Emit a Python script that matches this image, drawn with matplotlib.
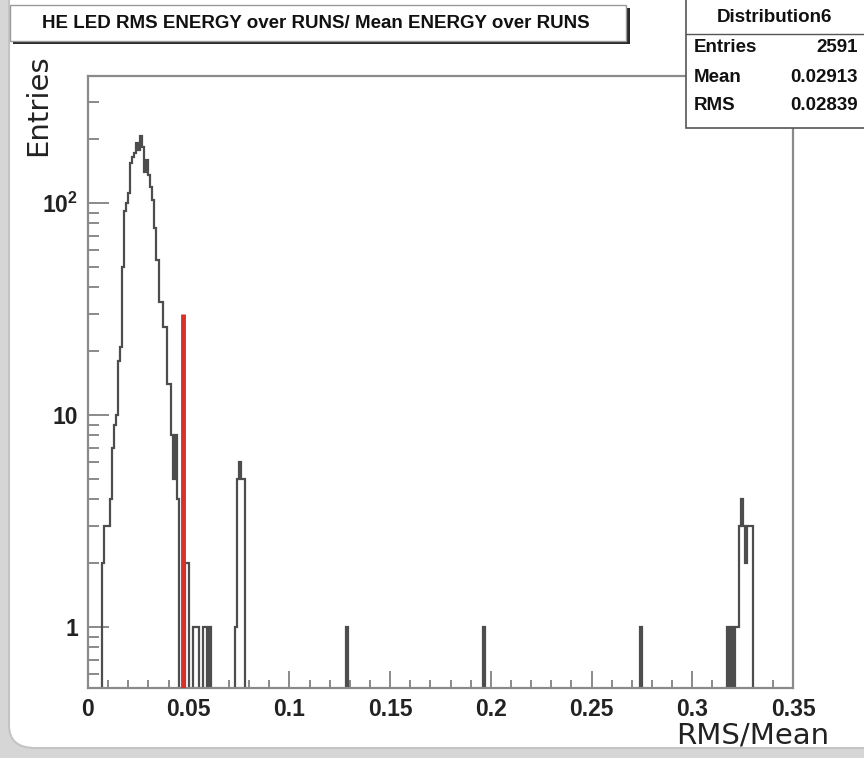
import numpy as np
import matplotlib
matplotlib.use("Agg")
import matplotlib.pyplot as plt
from matplotlib import font_manager
from matplotlib.patches import Rectangle, FancyBboxPatch
from matplotlib.ticker import FixedLocator, FixedFormatter, NullFormatter

# ---------------- data ----------------
bin_width = 0.001
x_min, x_max = 0.0, 0.35
y_min, y_max = 0.515, 397.0

filled_bin_lo = [0.007, 0.008, 0.009, 0.010, 0.011, 0.012, 0.013, 0.014, 0.015, 0.016,
                 0.017, 0.018, 0.019, 0.020, 0.021, 0.022, 0.023, 0.024, 0.025, 0.026,
                 0.027, 0.028, 0.029, 0.030, 0.031, 0.032, 0.033, 0.034, 0.035, 0.036,
                 0.037, 0.038, 0.039, 0.040, 0.041, 0.042, 0.043, 0.044,
                 0.048, 0.049, 0.052, 0.053, 0.054, 0.057, 0.058, 0.060,
                 0.073, 0.074, 0.075, 0.076, 0.077,
                 0.128, 0.196, 0.274,
                 0.317, 0.319, 0.321, 0.322,
                 0.323, 0.324, 0.325, 0.326, 0.327, 0.328, 0.329]
filled_counts = [2, 3, 3, 3, 4, 7, 9, 10, 18, 21,
                 50, 92, 100, 111, 155, 165, 172, 192, 178, 208,
                 183, 140, 160, 135, 119, 103, 76, 54, 34, 34,
                 26, 26, 14, 14, 8, 5, 8, 4,
                 2, 2, 1, 1, 1, 1, 1, 1,
                 1, 5, 6, 5, 5,
                 1, 1, 1,
                 1, 1, 1, 1,
                 3, 4, 3, 2, 3, 3, 3]

cut_value = 0.047
cut_height = 30

title = "HE LED RMS ENERGY over RUNS/ Mean ENERGY over RUNS"
stats_title = "Distribution6"
stats_labels = ["Entries", "Mean", "RMS"]
stats_values = ["2591", "0.02913", "0.02839"]

x_ticks = [0.0, 0.05, 0.10, 0.15, 0.20, 0.25, 0.30, 0.35]
x_tick_labels = ["0", "0.05", "0.1", "0.15", "0.2", "0.25", "0.3", "0.35"]
y_ticks = [1, 10, 100]
y_tick_labels = ["1", "10", r"$\mathbf{10^{2}}$"]
x_label = "RMS/Mean"
y_label = "Entries"

# ---------------- fonts ----------------
names = {f.name for f in font_manager.fontManager.ttflist}
narrow = "Liberation Sans Narrow" in names
bold_family = "Liberation Sans Narrow" if narrow else "Liberation Sans"
tick_size = 19 if narrow else 16.5
title_size = 16 if narrow else 13.5
stats_size = 16 if narrow else 13.5

plt.rcParams["mathtext.fontset"] = "custom"
plt.rcParams["mathtext.bf"] = bold_family + ":bold"
plt.rcParams["mathtext.rm"] = bold_family + ":bold"

W, H = 864, 758
fig = plt.figure(figsize=(W / 100, H / 100), dpi=100)
fig.patch.set_facecolor("#d6d6d6")


def fx(px):
    return px / W


def fy(py):
    return 1 - py / H


# rounded white page
page = FancyBboxPatch((fx(9), fy(748)), fx(900), fy(-60) - fy(748),
                      boxstyle="round,pad=0,rounding_size=0.03",
                      transform=fig.transFigure, facecolor="white",
                      edgecolor="#c4c4c4", lw=1.5, zorder=-10)
fig.patches.append(page)

ax = fig.add_axes([fx(88), fy(688), fx(793) - fx(88), fy(76) - fy(688)])
ax.set_zorder(1)
ax.set_facecolor("white")

# histogram
n_bins = int(round((x_max - x_min) / bin_width))
edges = np.linspace(x_min, x_max, n_bins + 1)
counts = np.zeros(n_bins)
idx = np.rint((np.array(filled_bin_lo) - x_min) / bin_width).astype(int)
counts[idx] = filled_counts
floor = 1e-3
ax.stairs(np.where(counts > 0, counts, floor), edges, baseline=floor,
          color="#4d4d4d", lw=1.6, zorder=2)

ax.vlines(cut_value, floor, cut_height, color="#d9302a", lw=3.5, zorder=3)

ax.set_yscale("log")
ax.set_xlim(x_min, x_max)
ax.set_ylim(y_min, y_max)

ax.xaxis.set_major_locator(FixedLocator(x_ticks))
ax.xaxis.set_major_formatter(FixedFormatter(x_tick_labels))
ax.xaxis.set_minor_locator(FixedLocator(np.arange(0, 0.3501, 0.01)))
ax.yaxis.set_major_locator(FixedLocator(y_ticks))
ax.yaxis.set_major_formatter(FixedFormatter(y_tick_labels))
minor_y = [m * 10 ** e for e in (-1, 0, 1, 2) for m in range(2, 10)]
ax.yaxis.set_minor_locator(FixedLocator(minor_y))
ax.yaxis.set_minor_formatter(NullFormatter())

axis_col = "#8a8a8a"
for s in ax.spines.values():
    s.set_color(axis_col)
    s.set_linewidth(1.6)
ax.tick_params(axis="both", which="both", direction="in", color=axis_col,
               top=False, right=False, width=1.4)
ax.tick_params(axis="x", which="major", length=12, pad=7)
ax.tick_params(axis="x", which="minor", length=6)
ax.tick_params(axis="y", which="major", length=15, pad=7)
ax.tick_params(axis="y", which="minor", length=8)
for lab in ax.get_xticklabels() + ax.get_yticklabels():
    lab.set_fontfamily(bold_family)
    lab.set_fontweight("bold")
    lab.set_fontsize(tick_size)
    lab.set_color("#222222")

# axis titles
fig.text(fx(829), fy(735), x_label, ha="right", va="center",
         fontsize=21, family="DejaVu Sans", color="#222222")
fig.text(fx(38), fy(105), y_label, ha="center", va="center", rotation=90,
         fontsize=21, family="DejaVu Sans", color="#222222")

# title box with shadow
fig.patches.append(Rectangle((fx(13), fy(44)), fx(617), fy(8) - fy(44),
                             transform=fig.transFigure, facecolor="#2a2a2a",
                             edgecolor="none", zorder=5))
fig.patches.append(Rectangle((fx(10), fy(41)), fx(616), fy(5) - fy(41),
                             transform=fig.transFigure, facecolor="white",
                             edgecolor="#9a9a9a", lw=1, zorder=6))
fig.text(fx(316), fy(23), title, ha="center", va="center",
         family=bold_family, weight="bold", fontsize=title_size,
         color="#111111", zorder=7)

# stats box
fig.patches.append(Rectangle((fx(686), fy(128)), fx(190), fy(-5) - fy(128),
                             transform=fig.transFigure, facecolor="white",
                             edgecolor="#555555", lw=1.2, zorder=5))
fig.lines.append(plt.Line2D([fx(686), fx(864)], [fy(34), fy(34)],
                            transform=fig.transFigure, color="#555555",
                            lw=1.0, zorder=6))
fig.text(fx(774), fy(18), stats_title, ha="center", va="center",
         family=bold_family, weight="bold", fontsize=stats_size,
         color="#111111", zorder=7)
row_y = [48, 77, 105]
for lab, val, yy in zip(stats_labels, stats_values, row_y):
    fig.text(fx(694), fy(yy), lab, ha="left", va="center",
             family=bold_family, weight="bold", fontsize=stats_size,
             color="#111111", zorder=7)
    fig.text(fx(858), fy(yy), val, ha="right", va="center",
             family=bold_family, weight="bold", fontsize=stats_size,
             color="#111111", zorder=7)

fig.savefig("out.png", dpi=100, facecolor=fig.get_facecolor())
